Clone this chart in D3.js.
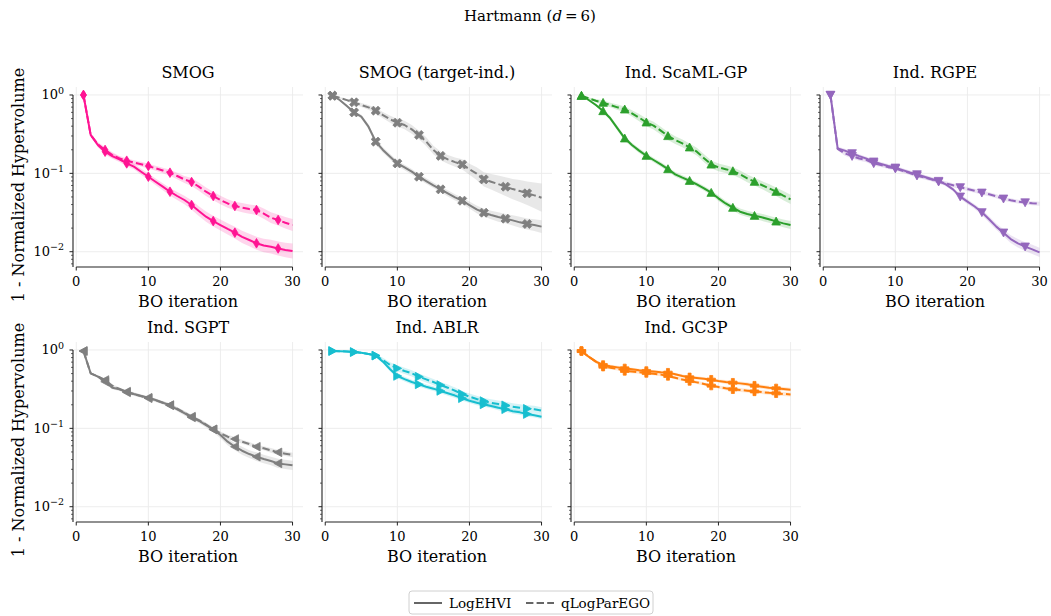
<!DOCTYPE html>
<html><head><meta charset="utf-8">
<script src="https://cdn.jsdelivr.net/npm/d3@7"></script>
<style>
body{margin:0;background:#fff}
svg{display:block}
text{font-family:'DejaVu Serif',serif;fill:#000}
</style>
</head><body>
<svg id="chart" width="1051" height="616"></svg>
<script>
// ---------------- DATA ----------------
const iterations = [1,2,3,4,5,6,7,8,9,10,11,12,13,14,15,16,17,18,19,20,21,22,23,24,25,26,27,28,29,30];
const xTicks = [0,10,20,30];
const yTicks = [1,0.1,0.01];
const yTickExponents = ["0","\u22121","\u22122"];
const suptitle = "Hartmann";
const seriesNames = ["LogEHVI","qLogParEGO"];
const panelTitles = ["SMOG","SMOG (target-ind.)","Ind. ScaML-GP","Ind. RGPE","Ind. SGPT","Ind. ABLR","Ind. GC3P"];
const panelColors = ["#ff1493","#7f7f7f","#2ca02c","#9467bd","#7f7f7f","#17becf","#ff7f0e"];
const panelMarkers = ["thinDiamond","X","triUp","triDown","triLeft","triRight","plus"];

// mean values (1 - normalized hypervolume)
const smogEHVI   = [1.0,0.31,0.23,0.189,0.166,0.151,0.134,0.122,0.105,0.0906,0.078,0.0676,0.0583,0.0514,0.0457,0.0394,0.033,0.028,0.0246,0.0219,0.0195,0.0175,0.0155,0.0141,0.0128,0.012,0.0116,0.011,0.0105,0.0102];
const smogParEGO = [1.0,0.31,0.235,0.199,0.171,0.155,0.145,0.137,0.131,0.124,0.116,0.109,0.102,0.0925,0.0837,0.0775,0.0676,0.0583,0.0514,0.0457,0.0413,0.0383,0.0365,0.035,0.034,0.0307,0.0272,0.0254,0.0234,0.0219];
const smogTiEHVI   = [0.98,0.863,0.724,0.60,0.53,0.394,0.254,0.199,0.163,0.134,0.119,0.105,0.0906,0.0798,0.0703,0.0625,0.0556,0.0494,0.0448,0.0394,0.0347,0.0315,0.0294,0.0277,0.0264,0.0251,0.0237,0.0226,0.0219,0.0209];
const smogTiParEGO = [0.98,0.92,0.86,0.806,0.745,0.696,0.631,0.555,0.489,0.443,0.414,0.364,0.309,0.254,0.199,0.167,0.151,0.139,0.130,0.113,0.0992,0.0838,0.0782,0.073,0.0676,0.063,0.0594,0.0556,0.0524,0.0489];
const scamlEHVI   = [0.98,0.863,0.745,0.625,0.504,0.375,0.28,0.23,0.195,0.168,0.148,0.130,0.1135,0.0972,0.088,0.0805,0.0724,0.0644,0.0566,0.048,0.0413,0.0365,0.0324,0.0303,0.0288,0.0275,0.0259,0.0244,0.023,0.0219];
const scamlParEGO = [0.98,0.905,0.846,0.798,0.745,0.696,0.656,0.583,0.514,0.448,0.407,0.351,0.30,0.266,0.241,0.215,0.189,0.156,0.130,0.119,0.113,0.107,0.097,0.0863,0.0783,0.071,0.0644,0.0583,0.0519,0.0466];
const rgpeEHVI   = [1.0,0.208,0.195,0.18,0.166,0.154,0.141,0.132,0.124,0.118,0.110,0.103,0.097,0.0907,0.0848,0.0798,0.0724,0.0625,0.0504,0.0436,0.0377,0.0318,0.0259,0.0209,0.0175,0.0145,0.0128,0.0116,0.0107,0.0098];
const rgpeParEGO = [1.0,0.205,0.18,0.166,0.155,0.148,0.134,0.128,0.12,0.115,0.108,0.101,0.0934,0.0887,0.0838,0.0783,0.0746,0.0704,0.0663,0.063,0.06,0.0566,0.054,0.051,0.0475,0.0453,0.0436,0.0425,0.0415,0.041];
const sgptEHVI   = [0.97,0.504,0.457,0.394,0.33,0.315,0.294,0.275,0.259,0.246,0.23,0.213,0.197,0.175,0.156,0.138,0.125,0.11,0.097,0.0822,0.0676,0.0583,0.0518,0.047,0.0435,0.0406,0.0383,0.0357,0.0347,0.0337];
const sgptParEGO = [0.97,0.504,0.46,0.414,0.35,0.318,0.288,0.272,0.258,0.242,0.228,0.212,0.198,0.178,0.158,0.141,0.127,0.112,0.097,0.0863,0.0783,0.0731,0.0676,0.063,0.0583,0.0556,0.0524,0.0494,0.0475,0.0457];
const ablrEHVI   = [0.97,0.965,0.96,0.943,0.92,0.89,0.847,0.71,0.568,0.466,0.425,0.39,0.364,0.34,0.321,0.30,0.28,0.262,0.242,0.225,0.212,0.202,0.193,0.183,0.175,0.165,0.16,0.152,0.147,0.141];
const ablrParEGO = [0.97,0.965,0.96,0.94,0.92,0.89,0.85,0.745,0.644,0.583,0.54,0.504,0.457,0.422,0.39,0.357,0.33,0.302,0.274,0.254,0.237,0.223,0.212,0.204,0.197,0.189,0.183,0.178,0.175,0.168];
const gc3pEHVI   = [0.97,0.822,0.71,0.644,0.62,0.60,0.583,0.567,0.55,0.54,0.53,0.52,0.514,0.49,0.466,0.448,0.44,0.43,0.418,0.402,0.39,0.383,0.375,0.365,0.351,0.34,0.33,0.324,0.318,0.312];
const gc3pParEGO = [0.97,0.82,0.71,0.612,0.595,0.575,0.54,0.53,0.52,0.508,0.498,0.485,0.466,0.443,0.42,0.402,0.386,0.368,0.351,0.337,0.324,0.315,0.309,0.303,0.296,0.29,0.284,0.28,0.275,0.271];

// uncertainty band half-widths (decades, log10)
const smogEHVIBand   = [0,0.02,0.03,0.035,0.035,0.035,0.035,0.035,0.038,0.04,0.042,0.045,0.048,0.05,0.055,0.06,0.062,0.065,0.068,0.07,0.072,0.075,0.078,0.08,0.083,0.085,0.088,0.09,0.092,0.095];
const smogParEGOBand = [0,0.02,0.03,0.035,0.035,0.03,0.03,0.03,0.03,0.03,0.032,0.035,0.038,0.04,0.045,0.05,0.052,0.055,0.055,0.055,0.055,0.055,0.058,0.06,0.062,0.065,0.068,0.07,0.073,0.077];
const smogTiEHVIBand   = [0,0.01,0.015,0.02,0.025,0.03,0.035,0.035,0.035,0.035,0.035,0.035,0.035,0.035,0.035,0.035,0.04,0.04,0.04,0.045,0.05,0.05,0.055,0.06,0.06,0.065,0.07,0.07,0.075,0.08];
const smogTiParEGOBand = [0,0.01,0.015,0.02,0.025,0.03,0.035,0.04,0.045,0.05,0.055,0.055,0.055,0.055,0.055,0.055,0.055,0.06,0.065,0.07,0.08,0.09,0.1,0.11,0.12,0.13,0.14,0.15,0.165,0.18];
const scamlEHVIBand   = [0,0.01,0.015,0.02,0.025,0.03,0.03,0.03,0.03,0.03,0.03,0.03,0.03,0.03,0.03,0.03,0.03,0.03,0.03,0.035,0.035,0.035,0.04,0.04,0.04,0.045,0.045,0.045,0.05,0.05];
const scamlParEGOBand = [0,0.01,0.02,0.03,0.03,0.035,0.035,0.04,0.045,0.05,0.05,0.05,0.05,0.05,0.05,0.05,0.05,0.05,0.05,0.05,0.05,0.05,0.05,0.05,0.05,0.05,0.055,0.055,0.06,0.06];
const rgpeEHVIBand   = [0,0.02,0.025,0.025,0.025,0.025,0.025,0.025,0.025,0.025,0.025,0.025,0.025,0.025,0.025,0.025,0.025,0.025,0.03,0.03,0.03,0.035,0.04,0.04,0.045,0.05,0.055,0.055,0.06,0.06];
const rgpeParEGOBand = [0,0.02,0.03,0.03,0.03,0.03,0.03,0.025,0.025,0.025,0.025,0.025,0.025,0.025,0.025,0.025,0.025,0.025,0.025,0.025,0.025,0.025,0.025,0.025,0.025,0.025,0.025,0.025,0.025,0.025];
const sgptEHVIBand   = [0,0.01,0.015,0.02,0.02,0.02,0.02,0.02,0.02,0.02,0.02,0.02,0.025,0.025,0.03,0.03,0.03,0.03,0.035,0.04,0.045,0.045,0.05,0.05,0.055,0.055,0.055,0.06,0.06,0.06];
const sgptParEGOBand = [0,0.01,0.015,0.02,0.02,0.02,0.02,0.02,0.02,0.02,0.02,0.02,0.02,0.02,0.02,0.02,0.02,0.02,0.02,0.025,0.025,0.025,0.025,0.025,0.025,0.025,0.03,0.03,0.03,0.03];
const ablrEHVIBand   = [0,0.005,0.005,0.01,0.01,0.01,0.015,0.025,0.03,0.03,0.03,0.03,0.03,0.03,0.03,0.03,0.03,0.03,0.03,0.03,0.03,0.03,0.03,0.03,0.03,0.03,0.03,0.03,0.03,0.03];
const ablrParEGOBand = [0,0.005,0.005,0.01,0.01,0.01,0.015,0.03,0.035,0.04,0.04,0.04,0.04,0.04,0.04,0.04,0.04,0.04,0.04,0.04,0.04,0.04,0.045,0.045,0.045,0.045,0.045,0.045,0.045,0.045];
const gc3pEHVIBand   = [0,0.015,0.02,0.02,0.02,0.02,0.02,0.02,0.02,0.02,0.02,0.02,0.02,0.02,0.02,0.02,0.02,0.02,0.02,0.02,0.025,0.025,0.025,0.025,0.025,0.025,0.025,0.025,0.025,0.025];
const gc3pParEGOBand = [0,0.015,0.02,0.02,0.02,0.02,0.02,0.02,0.02,0.02,0.02,0.02,0.02,0.02,0.02,0.02,0.02,0.02,0.02,0.02,0.025,0.025,0.025,0.025,0.025,0.025,0.025,0.025,0.025,0.025];

const panelSeries = [
  [smogEHVI, smogParEGO], [smogTiEHVI, smogTiParEGO], [scamlEHVI, scamlParEGO], [rgpeEHVI, rgpeParEGO],
  [sgptEHVI, sgptParEGO], [ablrEHVI, ablrParEGO], [gc3pEHVI, gc3pParEGO]
];
const panelBands = [
  [smogEHVIBand, smogParEGOBand], [smogTiEHVIBand, smogTiParEGOBand], [scamlEHVIBand, scamlParEGOBand], [rgpeEHVIBand, rgpeParEGOBand],
  [sgptEHVIBand, sgptParEGOBand], [ablrEHVIBand, ablrParEGOBand], [gc3pEHVIBand, gc3pParEGOBand]
];

// ---------------- LAYOUT ----------------
const colLeft = [73, 322, 571, 820];
const rowTop = [87, 342];
const W = 230, H = 180;
const dashPattern = "7.4,3.2";

const svg = d3.select("#chart");
const x = d3.scaleLinear().domain([-0.45, 31.45]).range([0, W]);
const y = d3.scaleLog().domain([0.00638, 1.265]).range([H, 0]);

// marker paths
function markerPath(type) {
  const r = 4.3;
  const rot = (pts, a) => pts.map(([px,py]) => [px*Math.cos(a)-py*Math.sin(a), px*Math.sin(a)+py*Math.cos(a)]);
  const toPath = pts => "M" + pts.map(p => p[0].toFixed(2)+","+p[1].toFixed(2)).join("L") + "Z";
  const plusPts = (a, t) => [[t,-a],[t,-t],[a,-t],[a,t],[t,t],[t,a],[-t,a],[-t,t],[-a,t],[-a,-t],[-t,-t],[-t,-a]];
  switch(type) {
    case "thinDiamond": return toPath([[0,-4.8],[2.9,0],[0,4.8],[-2.9,0]]);
    case "X": return toPath(rot(plusPts(4.8,1.6), Math.PI/4));
    case "plus": return toPath(plusPts(4.2,1.5));
    case "triUp": return toPath([[0,-r],[r,r*0.85],[-r,r*0.85]]);
    case "triDown": return toPath([[0,r],[r,-r*0.85],[-r,-r*0.85]]);
    case "triLeft": return toPath([[-r,0],[r*0.85,-r],[r*0.85,r]]);
    case "triRight": return toPath([[r,0],[-r*0.85,-r],[-r*0.85,r]]);
  }
}

// suptitle
const st = svg.append("text").attr("x", 530).attr("y", 21).attr("text-anchor","middle").style("font-size","15px");
st.append("tspan").text(suptitle + " (");
st.append("tspan").style("font-style","italic").text("d");
st.append("tspan").text("\u2009=\u20096)");

const minorTicks = [];
[0.001, 0.01, 0.1].forEach(base => { for (let k = 2; k <= 9; k++) minorTicks.push(base*k); });

panelTitles.forEach((title, i) => {
  const row = Math.floor(i/4), col = i % 4;
  const g = svg.append("g").attr("transform", `translate(${colLeft[col]},${rowTop[row]})`);
  const color = panelColors[i];

  // grid
  g.selectAll(".gx").data(xTicks).enter().append("line")
    .attr("x1", d=>x(d)).attr("x2", d=>x(d)).attr("y1", 0).attr("y2", H)
    .attr("stroke", "#ebebeb").attr("stroke-width", 0.9);
  g.selectAll(".gy").data(yTicks).enter().append("line")
    .attr("x1", 0).attr("x2", W).attr("y1", d=>y(d)).attr("y2", d=>y(d))
    .attr("stroke", "#ebebeb").attr("stroke-width", 0.9);

  // bands, lines, markers
  const series = panelSeries[i], bands = panelBands[i];
  series.forEach((vals, s) => {
    const band = bands[s];
    const area = d3.area()
      .x((d, j) => x(iterations[j]))
      .y0((d, j) => y(d * Math.pow(10, -band[j])))
      .y1((d, j) => y(d * Math.pow(10, band[j])))
      .curve(d3.curveLinear);
    g.append("path").attr("d", area(vals)).attr("fill", color).attr("fill-opacity", 0.18).attr("stroke","none");
  });
  series.forEach((vals, s) => {
    const line = d3.line().x((d, j) => x(iterations[j])).y(d => y(d));
    g.append("path").attr("d", line(vals)).attr("fill","none").attr("stroke", color)
      .attr("stroke-width", 2).attr("stroke-dasharray", s === 1 ? dashPattern : null)
      .attr("stroke-linejoin","round");
    const mk = vals.map((v, j) => ({it: iterations[j], v})).filter(d => (d.it - 1) % 3 === 0);
    g.selectAll(null).data(mk).enter().append("path")
      .attr("d", markerPath(panelMarkers[i]))
      .attr("transform", d => `translate(${x(d.it)},${y(d.v)})`)
      .attr("fill", color).attr("stroke", color).attr("stroke-width", 0.8);
  });

  // spines
  g.append("line").attr("x1", 0).attr("x2", 0).attr("y1", y(1)).attr("y2", H)
    .attr("stroke", "#222").attr("stroke-width", 1.1);
  g.append("line").attr("x1", x(0)).attr("x2", x(30)).attr("y1", H).attr("y2", H)
    .attr("stroke", "#222").attr("stroke-width", 1.1);

  // x ticks
  g.selectAll(".xt").data(xTicks).enter().append("line")
    .attr("x1", d=>x(d)).attr("x2", d=>x(d)).attr("y1", H).attr("y2", H+3.5)
    .attr("stroke", "#222").attr("stroke-width", 1);
  g.selectAll(".xtl").data(xTicks).enter().append("text")
    .attr("x", d=>x(d)).attr("y", H+19).attr("text-anchor","middle")
    .style("font-size","13px").text(d=>d);
  g.append("text").attr("x", W/2).attr("y", H+39.5).attr("text-anchor","middle")
    .style("font-size","16px").text("BO iteration");

  // y ticks
  g.selectAll(".yt").data(yTicks).enter().append("line")
    .attr("x1", -3.5).attr("x2", 0).attr("y1", d=>y(d)).attr("y2", d=>y(d))
    .attr("stroke", "#222").attr("stroke-width", 1);
  g.selectAll(".ymt").data(minorTicks.filter(d => d >= y.domain()[0] && d <= y.domain()[1])).enter().append("line")
    .attr("x1", -2).attr("x2", 0).attr("y1", d=>y(d)).attr("y2", d=>y(d))
    .attr("stroke", "#222").attr("stroke-width", 0.7);
  if (col === 0) {
    yTicks.forEach((d, k) => {
      const t = g.append("text").attr("x", -9).attr("y", y(d)+4.5).attr("text-anchor","end").style("font-size","13px");
      t.append("tspan").text("10");
      t.append("tspan").attr("dy", -6).style("font-size","9.5px").text(yTickExponents[k]);
    });
    svg.append("text")
      .attr("transform", `translate(${18},${rowTop[row] + H/2 + 8}) rotate(-90)`)
      .attr("text-anchor","middle").attr("dominant-baseline","central")
      .style("font-size","16px").text("1 - Normalized Hypervolume");
  }

  // title
  g.append("text").attr("x", W/2).attr("y", -9).attr("text-anchor","middle")
    .style("font-size","16px").text(title);
});

// legend
const lg = svg.append("g");
lg.append("rect").attr("x", 409).attr("y", 591).attr("width", 244).attr("height", 23).attr("rx", 3)
  .attr("fill","#fff").attr("stroke","#d0d0d0").attr("stroke-width",1);
const legendItems = [
  {name: seriesNames[0], x0: 414, dash: null},
  {name: seriesNames[1], x0: 526, dash: dashPattern}
];
legendItems.forEach(it => {
  lg.append("line").attr("x1", it.x0).attr("x2", it.x0+28).attr("y1", 603).attr("y2", 603)
    .attr("stroke", "#666").attr("stroke-width", 2).attr("stroke-dasharray", it.dash);
  lg.append("text").attr("x", it.x0+35).attr("y", 608).style("font-size","13.5px").text(it.name);
});
</script>
</body></html>
